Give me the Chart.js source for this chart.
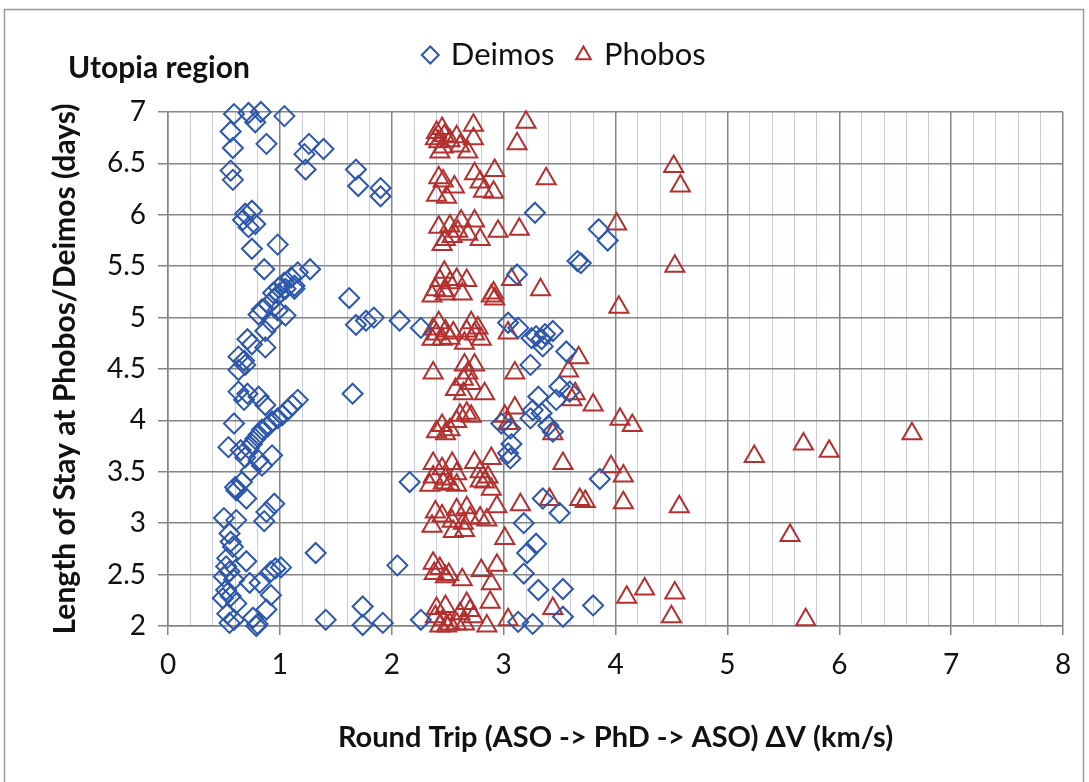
<!DOCTYPE html>
<html>
<head>
<meta charset="utf-8">
<script src="https://cdn.jsdelivr.net/npm/chart.js@4"></script>
<style>
  html, body { margin: 0; padding: 0; background: #fff; }
  #wrap { width: 1089px; height: 782px; }
</style>
</head>
<body>
<div id="wrap"><canvas id="chart" width="1089" height="782"></canvas></div>
<script>
// [round-trip dV (km/s), stay (days)]
const deimosPoints = [
  [0.59, 6.98], [0.72, 6.99], [0.83, 7.0], [0.78, 6.90], [1.04, 6.96], [0.56, 6.81], [0.58, 6.65],
  [0.88, 6.69], [1.26, 6.69], [1.22, 6.59], [1.39, 6.64], [1.23, 6.44], [0.56, 6.43], [0.58, 6.34],
  [1.68, 6.44], [1.70, 6.28], [1.90, 6.26], [1.90, 6.18], [0.69, 6.01], [0.75, 6.04], [0.67, 5.95],
  [0.78, 5.91], [0.72, 5.88], [0.75, 5.67], [0.98, 5.71], [0.86, 5.47], [1.27, 5.47], [1.16, 5.44],
  [1.10, 5.39], [1.04, 5.34], [0.99, 5.29], [0.94, 5.24], [1.13, 5.31], [1.62, 5.19],
  [3.28, 6.02], [3.85, 5.86], [3.93, 5.75], [3.66, 5.55], [3.69, 5.53], [3.12, 5.42],
  [0.84, 5.08], [0.90, 5.13], [0.95, 5.18], [0.99, 5.23], [1.05, 5.28], [0.81, 5.03], [0.98, 5.07],
  [1.05, 5.02], [1.13, 5.28], [1.68, 4.93], [1.77, 4.97], [1.84, 5.0], [2.07, 4.97], [2.26, 4.90],
  [0.93, 4.95], [0.87, 4.87], [0.71, 4.79], [0.75, 4.74], [0.87, 4.71], [0.63, 4.62], [0.68, 4.58],
  [0.63, 4.49], [0.69, 4.54], [1.65, 4.26], [0.63, 4.28], [0.71, 4.26], [0.68, 4.20], [0.81, 4.23],
  [0.87, 4.15], [1.16, 4.2], [1.11, 4.15], [1.07, 4.10], [1.02, 4.05], [0.98, 4.02], [0.93, 3.99],
  [0.89, 3.94], [0.84, 3.91], [0.81, 3.86], [0.78, 3.82], [0.75, 3.77], [0.72, 3.73], [0.59, 3.97],
  [0.54, 3.74], [0.65, 3.71], [0.69, 3.64], [0.93, 3.66], [0.81, 3.61], [0.84, 3.56], [0.74, 3.51],
  [2.16, 3.40], [0.66, 3.40], [0.60, 3.35],
  [0.61, 3.32], [0.70, 3.24], [0.95, 3.19], [0.88, 3.11], [0.86, 3.02], [0.50, 3.05], [0.61, 3.03],
  [1.32, 2.71], [2.05, 2.59], [0.55, 2.90], [0.56, 2.82], [0.58, 2.77], [0.53, 2.66], [0.52, 2.58],
  [0.50, 2.48], [0.55, 2.53], [0.59, 2.45], [0.52, 2.35], [0.56, 2.29], [0.49, 2.27], [0.61, 2.22],
  [0.53, 2.12], [0.59, 2.06], [0.55, 2.03], [0.70, 2.63], [0.96, 2.56], [0.92, 2.53], [1.01, 2.57],
  [0.73, 2.42], [0.82, 2.42], [0.92, 2.30], [0.88, 2.16], [0.76, 2.08], [0.80, 2.02], [0.79, 2.0],
  [1.41, 2.06], [1.74, 2.19], [1.74, 2.01], [1.92, 2.03], [2.26, 2.06],
  [3.04, 4.95], [3.13, 4.90], [3.25, 4.80], [3.29, 4.82], [3.34, 4.79], [3.37, 4.84], [3.44, 4.87],
  [3.35, 4.72], [3.56, 4.67], [3.24, 4.54], [3.50, 4.33], [3.59, 4.28], [3.47, 4.20], [3.31, 4.23],
  [3.26, 4.10], [3.34, 4.07], [3.24, 4.02], [3.40, 3.95], [3.44, 3.89], [2.98, 3.97], [3.06, 3.92],
  [3.07, 3.77], [3.04, 3.68], [3.06, 3.63], [3.86, 3.43], [3.35, 3.24], [3.50, 3.10], [3.18, 3.0],
  [3.29, 2.80], [3.21, 2.71], [3.18, 2.51], [3.31, 2.35], [3.53, 2.36], [3.80, 2.20], [3.53, 2.09],
  [3.13, 2.04], [3.26, 2.02]
];

const phobosPoints = [
  [2.40, 6.80], [2.45, 6.84], [2.47, 6.77], [2.42, 6.71], [2.46, 6.66], [2.52, 6.72], [2.58, 6.76],
  [2.43, 6.61], [2.39, 6.74], [2.73, 6.87], [2.73, 6.74], [2.68, 6.61], [2.61, 6.67], [3.20, 6.90],
  [3.12, 6.69], [2.42, 6.36], [2.46, 6.33], [2.40, 6.19], [2.49, 6.17], [2.56, 6.27], [2.74, 6.40],
  [2.79, 6.32], [2.92, 6.43], [2.82, 6.23], [2.91, 6.22], [3.38, 6.35], [4.52, 6.47], [4.58, 6.28],
  [2.42, 5.88], [2.52, 5.89], [2.62, 5.94], [2.74, 5.94], [2.59, 5.84], [2.68, 5.81], [2.48, 5.76],
  [2.79, 5.76], [2.54, 5.79], [2.45, 5.71], [2.95, 5.84], [3.14, 5.86], [4.01, 5.91],
  [2.47, 5.44], [2.43, 5.36], [2.52, 5.34], [2.58, 5.37], [2.67, 5.36], [2.39, 5.27], [2.47, 5.26],
  [3.07, 5.37], [2.91, 5.24], [3.33, 5.27], [4.53, 5.50],
  [2.36, 5.21], [2.48, 5.23], [2.63, 5.23], [2.89, 5.21], [2.92, 5.18], [4.03, 5.10],
  [2.42, 4.95], [2.37, 4.89], [2.48, 4.87], [2.45, 4.79], [2.52, 4.80], [2.36, 4.79], [2.55, 4.85],
  [2.40, 4.84], [2.65, 4.75], [2.71, 4.95], [2.67, 4.87], [2.77, 4.90], [2.80, 4.79], [2.74, 4.84],
  [3.04, 4.85], [2.37, 4.46], [3.10, 4.46], [2.65, 4.54], [2.74, 4.54], [2.68, 4.46], [2.64, 4.40],
  [2.71, 4.36], [2.57, 4.30], [2.83, 4.26], [2.64, 4.26], [3.67, 4.61], [3.58, 4.48], [3.61, 4.20],
  [3.64, 4.26], [3.80, 4.15], [2.61, 4.05], [2.67, 4.07], [2.71, 4.04], [2.58, 3.99], [2.45, 3.95],
  [2.48, 3.87], [2.40, 3.89], [2.52, 3.91], [3.01, 4.04], [3.10, 4.12], [3.04, 3.97], [4.04, 4.01],
  [4.15, 3.95], [3.44, 3.87], [3.53, 3.58], [3.96, 3.55], [4.07, 3.46],
  [2.37, 3.58], [2.45, 3.53], [2.54, 3.58], [2.37, 3.45], [2.48, 3.43], [2.58, 3.48], [2.52, 3.38],
  [2.74, 3.59], [2.89, 3.63], [2.79, 3.50], [2.86, 3.45], [2.83, 3.40],
  [5.24, 3.65], [5.68, 3.77], [5.91, 3.70], [6.65, 3.87],
  [2.34, 3.37], [2.46, 3.39], [2.58, 3.37], [2.79, 3.41], [2.89, 3.33], [3.41, 3.23], [3.68, 3.23],
  [3.73, 3.21], [4.07, 3.20], [4.57, 3.16], [3.15, 3.18], [2.94, 3.16],
  [2.39, 3.11], [2.45, 3.07], [2.36, 2.97], [2.54, 3.02], [2.58, 3.13], [2.67, 3.15], [2.64, 3.0],
  [2.55, 2.92], [2.70, 3.05], [2.79, 3.05], [2.85, 3.03], [2.65, 2.93], [3.01, 2.85], [5.56, 2.88],
  [2.37, 2.61], [2.43, 2.56], [2.48, 2.48], [2.38, 2.51], [2.51, 2.50], [2.63, 2.45], [2.80, 2.54],
  [2.94, 2.59], [2.89, 2.41], [2.88, 2.23], [4.10, 2.28], [4.26, 2.36], [4.53, 2.32],
  [2.40, 2.17], [2.48, 2.19], [2.39, 2.09], [2.46, 2.06], [2.52, 2.02], [2.43, 2.0], [2.67, 2.22],
  [2.70, 2.15], [2.61, 2.12], [2.73, 2.09], [2.58, 2.02], [2.65, 2.02], [2.49, 2.0],
  [2.85, 2.0], [3.04, 2.06], [3.44, 2.17], [4.50, 2.09], [5.70, 2.06]
];

const seriesNames = ['Deimos', 'Phobos'];
const xRange = [0, 8];
const yRange = [2, 7];
const chartTitle = 'Utopia region';
const xTitle = 'Round Trip (ASO -> PhD -> ASO) \u0394V (km/s)';
const yTitle = 'Length of Stay at Phobos/Deimos (days)';

const BLUE = '#2c57ad';
const RED = '#b3302f';
const MAJOR = '#858585';
const MINOR = '#c9cbe0';
const FONT = 'Lato, "Open Sans", sans-serif';

function toXY(points) {
  return points.map(p => ({x: p[0], y: p[1]}));
}

function isWhole(v) {
  return Math.abs(v - Math.round(v)) < 1e-6;
}

// white page and the thin frame round the whole chart
const framePlugin = {
  id: 'frame',
  beforeDraw(chart) {
    const ctx = chart.ctx;
    ctx.save();
    ctx.fillStyle = '#fff';
    ctx.fillRect(0, 0, chart.width, chart.height);
    ctx.strokeStyle = '#9a9a9a';
    ctx.lineWidth = 1.5;
    ctx.strokeRect(4.5, 9.5, 1079, 800);
    ctx.restore();
  }
};

const ctx = document.getElementById('chart').getContext('2d');
new Chart(ctx, {
  type: 'scatter',
  data: {
    datasets: [
      {
        label: seriesNames[0],
        data: toXY(deimosPoints),
        pointStyle: 'rectRot',
        pointRadius: 10,
        pointHoverRadius: 10,
        borderColor: BLUE,
        backgroundColor: 'rgba(0,0,0,0)',
        pointBorderWidth: 2,
        borderWidth: 2,
        clip: false
      },
      {
        label: seriesNames[1],
        data: toXY(phobosPoints),
        pointStyle: 'triangle',
        pointRadius: 11,
        pointHoverRadius: 11,
        borderColor: RED,
        backgroundColor: 'rgba(0,0,0,0)',
        pointBorderWidth: 2,
        borderWidth: 2,
        clip: false
      }
    ]
  },
  options: {
    responsive: false,
    animation: false,
    layout: {
      padding: {left: 68, right: 26, top: 15.5, bottom: 0}
    },
    plugins: {
      legend: {
        display: true,
        position: 'top',
        weight: 3000,
        labels: {
          usePointStyle: true,
          boxWidth: 10,
          boxHeight: 12,
          padding: 24,
          color: '#111',
          font: {family: FONT, size: 31}
        }
      },
      title: {
        display: true,
        text: chartTitle,
        align: 'start',
        color: '#111',
        padding: {top: -30.5, bottom: 26},
        font: {family: FONT, size: 30, weight: 'bold'}
      },
      tooltip: {enabled: false}
    },
    scales: {
      x: {
        type: 'linear',
        min: xRange[0],
        max: xRange[1],
        afterFit(scale) { scale.height = 156; },
        ticks: {
          stepSize: 0.2,
          autoSkip: false,
          maxRotation: 0,
          padding: 13,
          color: '#111',
          font: {family: FONT, size: 28},
          callback: v => isWhole(v) ? String(Math.round(v)) : ''
        },
        grid: {
          color: c => isWhole(c.tick.value) ? MAJOR : MINOR,
          lineWidth: c => isWhole(c.tick.value) ? 1.5 : 1,
          tickColor: c => isWhole(c.tick.value) ? MAJOR : 'rgba(0,0,0,0)',
          tickLength: 9
        },
        border: {color: MAJOR, width: 1.5},
        title: {
          display: true,
          text: xTitle,
          color: '#111',
          padding: {top: 0, bottom: 26.6},
          font: {family: FONT, size: 29, weight: 'bold'}
        }
      },
      y: {
        type: 'linear',
        min: yRange[0],
        max: yRange[1],
        afterFit(scale) { scale.width = 100; },
        ticks: {
          stepSize: 0.5,
          padding: 12,
          color: '#111',
          font: {family: FONT, size: 28},
          callback: v => String(v)
        },
        grid: {
          color: MAJOR,
          lineWidth: 1.5,
          tickColor: MAJOR,
          tickLength: 10
        },
        border: {color: MAJOR, width: 1.5},
        title: {
          display: true,
          text: yTitle,
          color: '#111',
          padding: {top: -21, bottom: 0},
          font: {family: FONT, size: 30, weight: 'bold'}
        }
      }
    }
  },
  plugins: [framePlugin]
});
</script>
</body>
</html>
